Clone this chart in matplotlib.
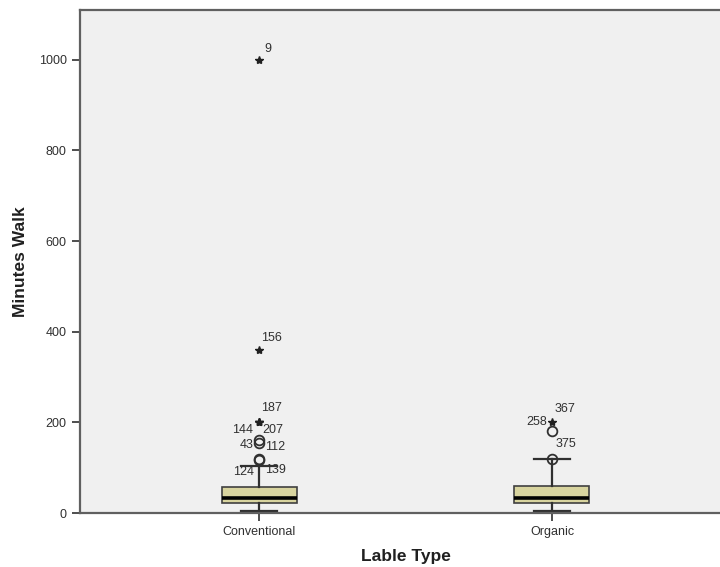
import matplotlib.pyplot as plt
import numpy as np

plt.rcParams['font.family'] = ['Liberation Sans', 'DejaVu Sans']

# Box summary per label type
categories = ['Conventional', 'Organic']
q1 = [21, 21]
medians = [33, 32]
q3 = [57, 60]
whisker_low = [5, 5]
whisker_high = [104, 120]

# Outliers: (category index, value, case label, marker kind)
out_cat = [0, 0, 0, 0, 0, 0, 0, 0, 0, 1, 1, 1]
out_val = [1000, 360, 200, 200, 200, 160, 155, 120, 116, 200, 180, 120]
out_lab = ['9', '156', '187', '144', '207', '43', '112', '124', '139', '367', '258', '375']
out_kind = ['star', 'star', 'star', 'star', 'star', 'circle', 'circle', 'circle', 'circle',
            'star', 'circle', 'circle']

# label placement in pixels relative to the marker (dx, dy, ha)
lab_off = {
    '9': (5, 11, 'left'), '156': (2, 12, 'left'), '187': (2, 14, 'left'),
    '144': (-6, -8, 'right'), '207': (3, -8, 'left'), '43': (-5, -5, 'right'),
    '112': (6, -4, 'left'), '124': (-5, -13, 'right'), '139': (6, -10, 'left'),
    '367': (3, 13, 'left'), '258': (-5, 9, 'right'), '375': (4, 15, 'left'),
}

fig = plt.figure(figsize=(7.2, 5.67), dpi=100)
ax = fig.add_axes([80 / 720, 54 / 567, 651 / 720, 503 / 567])
ax.set_facecolor('#f0f0f0')

pos = np.arange(1, len(categories) + 1)
stats = []
for i, c in enumerate(categories):
    stats.append(dict(label=c, q1=q1[i], med=medians[i], q3=q3[i],
                      whislo=whisker_low[i], whishi=whisker_high[i], fliers=[]))

ax.bxp(stats, positions=pos, widths=0.256, capwidths=0.123, patch_artist=True,
       showfliers=False,
       boxprops=dict(facecolor='#d8d49f', edgecolor='#404040', linewidth=1.2),
       medianprops=dict(color='black', linewidth=2.6),
       whiskerprops=dict(color='#303030', linewidth=1.6),
       capprops=dict(color='#303030', linewidth=1.6))

for c, v, lab, k in zip(out_cat, out_val, out_lab, out_kind):
    x = pos[c]
    if k == 'star':
        ax.plot(x, v, marker='*', ms=6, color='#202020', mec='#202020', ls='none', zorder=4)
    else:
        ax.plot(x, v, marker='o', ms=7, mfc='none', mec='#303030', mew=1.3, ls='none', zorder=4)
    dx, dy, ha = lab_off[lab]
    ax.annotate(lab, (x, v), xytext=(dx, dy), textcoords='offset pixels',
                ha=ha, va='center', fontsize=9, color='#303030')

ax.set_xlim(0.389, 2.611)
ax.set_ylim(0, 1110)
ax.set_yticks([0, 200, 400, 600, 800, 1000])
ax.set_xticks(pos)
ax.set_xticklabels(categories)
ax.tick_params(axis='both', labelsize=9, colors='#404040', labelcolor='#303030',
               length=6, width=1.3, direction='out')
for s in ax.spines.values():
    s.set_color('#606060')
    s.set_linewidth(1.6)

ax.set_ylabel('Minutes Walk', fontsize=12.5, fontweight='bold', color='#202020', labelpad=8)
ax.set_xlabel('Lable Type', fontsize=12.5, fontweight='bold', color='#202020', labelpad=8)

fig.savefig('out.png', dpi=100)
